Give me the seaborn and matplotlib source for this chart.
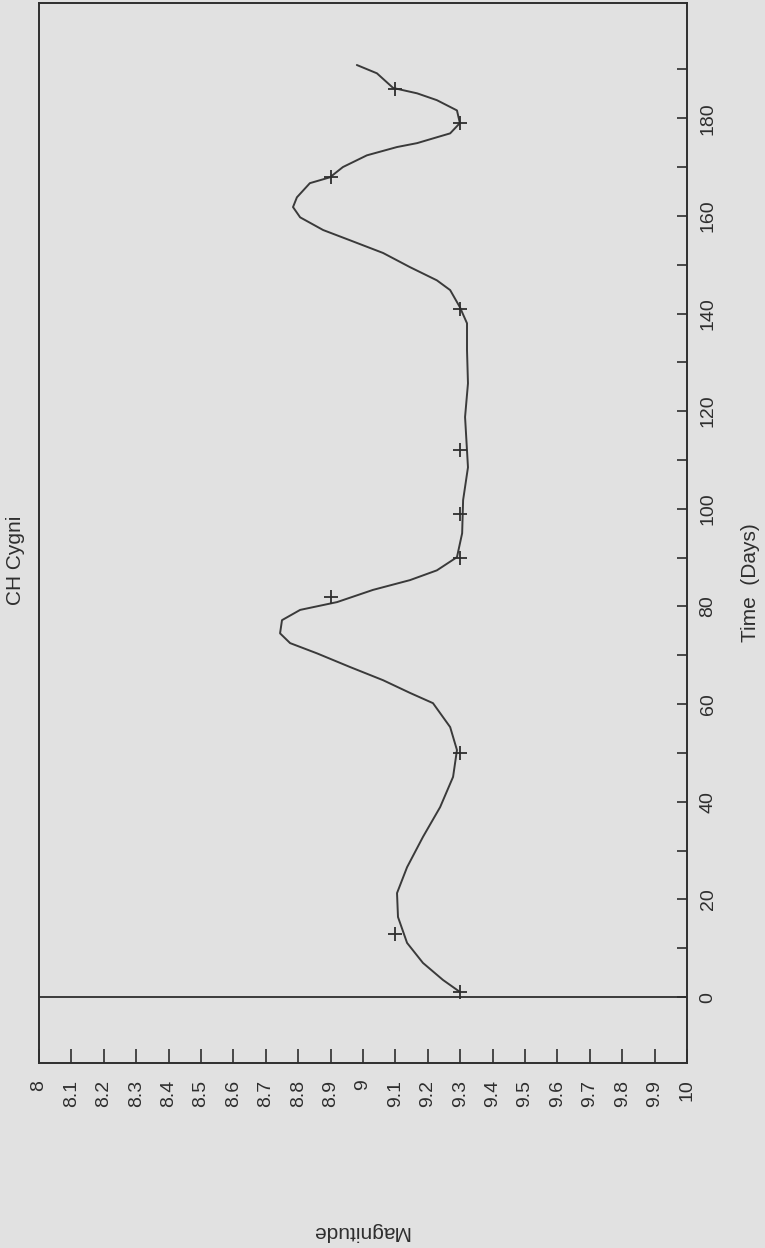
import matplotlib
matplotlib.use("Agg")
import matplotlib.pyplot as plt
import seaborn as sns
import numpy as np
import pandas as pd

# traced light curve (time in days, visual magnitude)
curve_days = [1.2, 3.5, 7.0, 11.1, 16.4, 21.3, 26.6, 32.8, 38.9, 45.1, 50.6, 55.3,
              60.2, 62.3, 64.9, 67.6, 70.4, 72.5, 74.5, 77.2, 79.3, 80.9, 83.4, 85.4,
              87.4, 90.1, 95.0, 101.8, 108.5, 118.8, 125.7, 132.5, 138.0, 141.3, 144.8,
              146.8, 149.5, 152.4, 155.0, 157.1, 159.7, 161.8, 163.8, 166.7, 167.9,
              170.0, 172.4, 174.1, 174.9, 176.1, 176.9, 179.0, 181.6, 183.7, 185.1,
              186.2, 189.2, 190.9]
curve_mag = [9.296, 9.247, 9.185, 9.136, 9.108, 9.105, 9.136, 9.185, 9.238, 9.278, 9.290, 9.269,
             9.216, 9.145, 9.062, 8.960, 8.858, 8.775, 8.744, 8.750, 8.806, 8.920, 9.031, 9.145,
             9.228, 9.290, 9.306, 9.309, 9.324, 9.315, 9.324, 9.321, 9.321, 9.299, 9.269,
             9.228, 9.145, 9.062, 8.960, 8.877, 8.806, 8.784, 8.796, 8.836, 8.898,
             8.938, 9.012, 9.105, 9.167, 9.228, 9.269, 9.299, 9.290, 9.228, 9.167,
             9.093, 9.043, 8.981]

# individual observations
obs_days = [1, 13, 50, 82, 90, 99, 112, 141, 168, 179, 186]
obs_mag = [9.3, 9.1, 9.3, 8.9, 9.3, 9.3, 9.3, 9.3, 8.9, 9.3, 9.1]

mag_ticks = np.round(np.arange(8.0, 10.01, 0.1), 1)
mag_labels = ["8", "8.1", "8.2", "8.3", "8.4", "8.5", "8.6", "8.7", "8.8", "8.9", "9",
              "9.1", "9.2", "9.3", "9.4", "9.5", "9.6", "9.7", "9.8", "9.9", "10"]
day_ticks = [0, 20, 40, 60, 80, 100, 120, 140, 160, 180]
day_minor = [10, 30, 50, 70, 90, 110, 130, 150, 170, 190]

sns.set_style("white")
plt.rcParams['font.family'] = ['Liberation Sans', 'DejaVu Sans']
ink = "#2e2e2e"
paper = "#e1e1e1"

fig = plt.figure(figsize=(7.65, 12.48), dpi=100, facecolor=paper)
ax = fig.add_axes([39/765, 1 - 1063/1248, 648/765, 1060/1248])
ax.set_facecolor(paper)

curve = pd.DataFrame({"mag": curve_mag, "day": curve_days})
obs = pd.DataFrame({"mag": obs_mag, "day": obs_days})
sns.lineplot(data=curve, x="mag", y="day", sort=False, estimator=None,
             color="#3a3a3a", linewidth=1.4, ax=ax)
sns.scatterplot(data=obs, x="mag", y="day", marker="+", s=110, color=ink,
                linewidth=1.3, ax=ax, zorder=5)
ax.axhline(0, color=ink, linewidth=1.3)

ax.set_xlim(8, 10)
ax.set_ylim(-13.5, 203.6)
ax.set_xlabel("")
ax.set_ylabel("")

ax.set_xticks(mag_ticks)
ax.set_xticklabels(mag_labels, rotation=90)
ax.tick_params(axis="x", direction="in", length=10, width=1.2, color=ink,
               labelsize=14, pad=12, labelcolor=ink, bottom=True, top=False)

ax.yaxis.tick_right()
ax.set_yticks(day_ticks)
ax.set_yticks(day_minor, minor=True)
ax.set_yticklabels([str(d) for d in day_ticks], rotation=90, va="center")
ax.tick_params(axis="y", which="both", direction="in", length=7, width=1.2, color=ink,
               labelsize=14, pad=9, labelcolor=ink, right=True, left=False)

for sp in ax.spines.values():
    sp.set_visible(True)
    sp.set_color(ink)
    sp.set_linewidth(1.4)

fig.text(750/765, 1 - 583/1248, "Time  (Days)", rotation=90, ha="center", va="center",
         fontsize=15, color=ink)
fig.text(360/765, 1 - 1232/1248, "Magnitude", rotation=180, ha="center", va="center",
         fontsize=15, color=ink)
fig.text(16/765, 1 - 560/1248, "CH Cygni", rotation=90, ha="center", va="center",
         fontsize=15, color=ink)

fig.savefig("out.png", dpi=100, facecolor=paper)
